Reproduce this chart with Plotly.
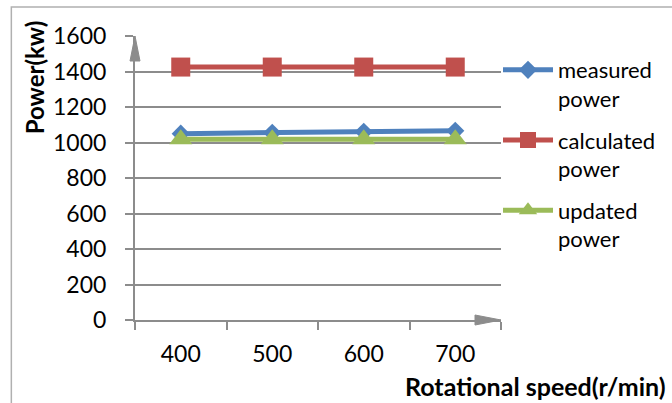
import plotly.graph_objects as go

speeds = ["400", "500", "600", "700"]
measured = [1050, 1055, 1060, 1066]
calculated = [1425, 1425, 1425, 1425]
updated = [1018, 1018, 1018, 1018]
y_ticks = [0, 200, 400, 600, 800, 1000, 1200, 1400, 1600]

FONT = "Lato"
GRID = "#8c8c8c"
AX = "#8c8c8c"

fig = go.Figure()
fig.add_trace(go.Scatter(x=speeds, y=measured, name="measured<br>power", mode="lines+markers",
                         legendgroup="a",
                         line=dict(color="#4f81bd", width=5),
                         marker=dict(symbol="diamond", size=14, color="#4f81bd")))
fig.add_trace(go.Scatter(x=speeds, y=calculated, name="calculated<br>power", mode="lines+markers",
                         legendgroup="b",
                         line=dict(color="#c0504d", width=5),
                         marker=dict(symbol="square", size=19, color="#c0504d")))
fig.add_trace(go.Scatter(x=speeds, y=updated, name="updated<br>power", mode="lines+markers",
                         legendgroup="c",
                         line=dict(color="#9bbb59", width=5),
                         marker=dict(symbol="triangle-up", size=20, color="#9bbb59")))

L, R, T, B = 135, 502, 36, 320
W, H = 672, 403

def px_x(p):
    return (p - L) / (R - L)

def px_y(p):
    return (B - p) / (B - T)

fig.update_layout(
    width=W, height=H,
    margin=dict(l=L, r=W - R, t=T, b=H - B),
    paper_bgcolor="white", plot_bgcolor="white",
    font=dict(family=FONT, size=23, color="black"),
    showlegend=True,
    legend=dict(x=px_x(498), y=px_y(49), xanchor="left", yanchor="top",
                xref="paper", yref="paper", valign="top",
                font=dict(family=FONT, size=22, color="black"),
                bgcolor="rgba(0,0,0,0)", itemwidth=50, tracegroupgap=10),
    xaxis=dict(type="category", showgrid=False, showline=True, linecolor=AX, linewidth=2,
               ticks="outside", tickson="boundaries", ticklen=8, tickcolor=AX, tickwidth=2,
               ticklabelstandoff=12, range=[-0.5, 3.5], zeroline=False),
    yaxis=dict(range=[0, 1600], tickvals=y_ticks, showgrid=True, gridcolor=GRID, gridwidth=1.5,
               showline=True, linecolor=AX, linewidth=2, ticks="outside", ticklen=8,
               tickcolor=GRID, tickwidth=1.5, ticklabelstandoff=14, zeroline=False),
)

shapes = [
    # outer chart border
    dict(type="rect", xref="paper", yref="paper", x0=px_x(11), y0=px_y(410), x1=px_x(690), y1=px_y(7),
         line=dict(color="#b0b0b0", width=1.5), fillcolor="rgba(0,0,0,0)", layer="below"),
    # y-axis arrowhead
    dict(type="path", xref="paper", yref="paper", xsizemode="pixel", ysizemode="pixel",
         xanchor=0, yanchor=1, path="M -5,-25 L 0,0 L 5,-25 Z",
         fillcolor=AX, line=dict(color=AX, width=1)),
    # x-axis arrowhead
    dict(type="path", xref="paper", yref="paper", xsizemode="pixel", ysizemode="pixel",
         xanchor=1, yanchor=0, path="M -26,-5 L 0,0 L -26,5 Z",
         fillcolor=AX, line=dict(color=AX, width=1)),
]
fig.update_layout(shapes=shapes)

fig.add_annotation(text="<b>Power(kw)</b>", xref="paper", yref="paper", x=px_x(34), y=px_y(77),
                   textangle=-90, showarrow=False, xanchor="center", yanchor="middle",
                   font=dict(family=FONT, size=24, color="black"))
fig.add_annotation(text="<b>Rotational speed(r/min)</b>", xref="paper", yref="paper",
                   x=px_x(537), y=px_y(386), showarrow=False, xanchor="center", yanchor="middle",
                   font=dict(family=FONT, size=25, color="black"))

fig.write_html("out.html")
